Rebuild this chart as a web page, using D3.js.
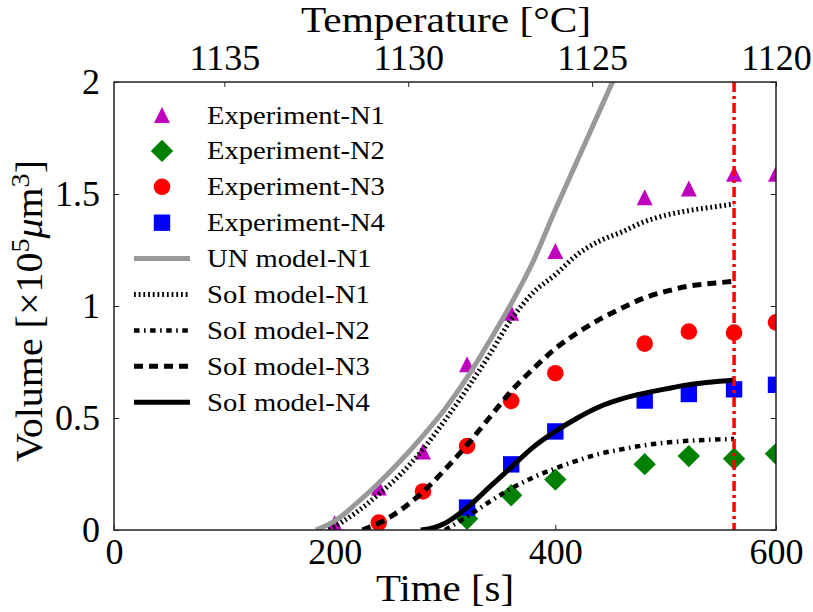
<!DOCTYPE html>
<html><head><meta charset="utf-8">
<script src="https://cdn.jsdelivr.net/npm/d3@7"></script>
<style>
body{margin:0;background:#fff}
text{font-family:"Liberation Serif","Times New Roman",serif;fill:#000}
</style>
</head><body><svg id="c" width="813" height="612"></svg>
<script>
// ---------- data ----------
const expTimeN1 = [200,240,280,320,360,400,481,521,562,600];
const expN1     = [0.03,0.19,0.35,0.74,0.97,1.245,1.485,1.525,1.59,1.59];
const expTimeN2 = [320,360,400,481,521,562,600];
const expN2     = [0.05,0.155,0.225,0.294,0.33,0.318,0.34];
const expTimeN3 = [240,280,320,360,400,481,521,562,600];
const expN3     = [0.033,0.172,0.375,0.576,0.70,0.832,0.886,0.881,0.927];
const expTimeN4 = [320,360,400,481,521,562,600];
const expN4     = [0.10,0.293,0.44,0.578,0.607,0.628,0.648];

const unTimeN1 = [183,200,220,240,260,280,300,320,340,360,380,400,420,440,460];
const unN1     = [0,0.04,0.12,0.21,0.31,0.42,0.54,0.68,0.84,1.01,1.2,1.43,1.65,1.87,2.09];
const soiTimeN1 = [195,220,240,260,280,300,320,340,360,380,400,420,440,460,480,500,520,540,562];
const soiN1     = [0,0.08,0.16,0.25,0.36,0.49,0.63,0.78,0.94,1.06,1.14,1.23,1.29,1.33,1.375,1.405,1.425,1.44,1.455];
const soiTimeN2 = [300,320,340,360,380,400,420,440,460,480,500,520,540,562];
const soiN2     = [0,0.06,0.125,0.185,0.235,0.275,0.31,0.34,0.36,0.378,0.39,0.398,0.403,0.406];
const soiTimeN3 = [225,240,260,280,300,320,340,360,380,400,420,440,460,480,500,520,540,562];
const soiN3     = [0,0.03,0.09,0.17,0.27,0.38,0.5,0.62,0.72,0.81,0.88,0.94,0.99,1.035,1.065,1.088,1.10,1.11];
const soiTimeN4 = [278,290,300,320,340,360,380,400,420,440,460,480,500,520,540,562];
const soiN4     = [0,0.01,0.03,0.1,0.19,0.28,0.37,0.44,0.5,0.55,0.585,0.61,0.63,0.648,0.66,0.67];

const markTime = 562;
const xTicks = [0,200,400,600];
const yTicks = [0,0.5,1,1.5,2];
const tempTicks = [1135,1130,1125,1120];
const tempDomain = [1138,1120];

const legendLabels = ["Experiment-N1","Experiment-N2","Experiment-N3","Experiment-N4",
  "UN model-N1","SoI model-N1","SoI model-N2","SoI model-N3","SoI model-N4"];

// ---------- layout ----------
const L=114, R=776, T=82, B=530;
const svg = d3.select("#c");
const x = d3.scaleLinear().domain([0,600]).range([L,R]);
const y = d3.scaleLinear().domain([0,2]).range([B,T]);
const xt = d3.scaleLinear().domain(tempDomain).range([L,R]);

svg.append("defs").append("clipPath").attr("id","clip")
  .append("rect").attr("x",L).attr("y",T).attr("width",R-L).attr("height",B-T);
const plot = svg.append("g").attr("clip-path","url(#clip)");

const zip = (a,b)=>a.map((v,i)=>[v,b[i]]);

// markers
const triPath = s => `M0,${-s}L${s},${s}L${-s},${s}Z`;
const diaPath = s => `M0,${-s}L${s},0L0,${s}L${-s},0Z`;
const markers = [
  {t:expTimeN1, v:expN1, color:"#bf00bf", type:"tri"},
  {t:expTimeN2, v:expN2, color:"#008000", type:"dia"},
  {t:expTimeN3, v:expN3, color:"#ff0000", type:"circ"},
  {t:expTimeN4, v:expN4, color:"#0000ff", type:"sq"}
];
function drawMarker(g, type, color, cx, cy){
  if(type==="tri") g.append("path").attr("d",triPath(8)).attr("transform",`translate(${cx},${cy})`).attr("fill",color);
  else if(type==="dia") g.append("path").attr("d",diaPath(11.2)).attr("transform",`translate(${cx},${cy})`).attr("fill",color);
  else if(type==="circ") g.append("circle").attr("cx",cx).attr("cy",cy).attr("r",8.3).attr("fill",color);
  else g.append("rect").attr("x",cx-8.2).attr("y",cy-8.2).attr("width",16.4).attr("height",16.4).attr("fill",color);
}
markers.forEach(m=>{
  zip(m.t,m.v).forEach(([t,v])=>drawMarker(plot,m.type,m.color,x(t),y(v)));
});

// lines
const line = d3.line().x(d=>x(d[0])).y(d=>y(d[1])).curve(d3.curveMonotoneX);
const lines = [
  {d:zip(unTimeN1,unN1), color:"#999999", w:5, dash:null},
  {d:zip(soiTimeN1,soiN1), color:"#000", w:5, dash:"1.8,2.9"},
  {d:zip(soiTimeN2,soiN2), color:"#000", w:4.5, dash:"5.5,4.5,1.6,4.5"},
  {d:zip(soiTimeN3,soiN3), color:"#000", w:5, dash:"9,6"},
  {d:zip(soiTimeN4,soiN4), color:"#000", w:5, dash:null}
];
lines.forEach(l=>{
  plot.append("path").attr("d",line(l.d)).attr("fill","none")
    .attr("stroke",l.color).attr("stroke-width",l.w)
    .attr("stroke-dasharray",l.dash);
});

// red vertical line
plot.append("line").attr("x1",x(markTime)).attr("x2",x(markTime))
  .attr("y1",y(2)).attr("y2",y(0)).attr("stroke","#ff0000").attr("stroke-width",3.5)
  .attr("stroke-dasharray","10,4,3,4");

// axes
const fs = 36;
function styleAxis(g){
  g.select(".domain").remove();
  g.selectAll(".tick line").attr("stroke","#222").attr("stroke-width",1);
  g.selectAll(".tick text").style("font-size",fs+"px").attr("font-family",null);
}
svg.append("g").attr("transform",`translate(0,${B})`)
  .call(d3.axisBottom(x).tickValues(xTicks).tickSizeInner(-5).tickSizeOuter(0).tickPadding(8).tickFormat(d=>String(d)))
  .call(styleAxis);
svg.append("g").attr("transform",`translate(${L},0)`)
  .call(d3.axisLeft(y).tickValues(yTicks).tickSizeInner(-5).tickSizeOuter(0).tickPadding(14).tickFormat(d=>String(d)))
  .call(styleAxis);
svg.append("g").attr("transform",`translate(${R},0)`)
  .call(d3.axisRight(y).tickValues(yTicks).tickSizeInner(-5).tickSizeOuter(0).tickFormat(""))
  .call(styleAxis);
svg.append("g").attr("transform",`translate(0,${T})`)
  .call(d3.axisTop(xt).tickValues(tempTicks).tickSizeInner(-5).tickSizeOuter(0).tickPadding(12).tickFormat(d=>String(d)))
  .call(styleAxis);

// frame
svg.append("rect").attr("x",L).attr("y",T).attr("width",R-L).attr("height",B-T)
  .attr("fill","none").attr("stroke","#222").attr("stroke-width",1.5);

// axis titles
svg.append("text").attr("x",(L+R)/2).attr("y",601).attr("text-anchor","middle")
  .style("font-size","37px").attr("textLength",138).attr("lengthAdjust","spacingAndGlyphs").text("Time [s]");
svg.append("text").attr("x",446).attr("y",32).attr("text-anchor","middle")
  .style("font-size","36px").attr("textLength",290).attr("lengthAdjust","spacingAndGlyphs").text("Temperature [°C]");
const yl = svg.append("text").attr("transform","translate(42,311) rotate(-90)")
  .attr("text-anchor","middle").style("font-size","37px")
  .attr("textLength",302).attr("lengthAdjust","spacingAndGlyphs");
yl.append("tspan").text("Volume [×10");
yl.append("tspan").attr("dy",-13).style("font-size","26px").text("5");
yl.append("tspan").attr("dy",13).style("font-style","italic").text("μ");
yl.append("tspan").text("m");
yl.append("tspan").attr("dy",-13).style("font-size","26px").text("3");
yl.append("tspan").attr("dy",13).text("]");

// legend
const lg = svg.append("g");
const ly0 = 115, lstep = 35.9, lmx = 162, ltx = 207;
legendLabels.forEach((lab,i)=>{
  const yy = ly0 + i*lstep;
  if(i<4){ drawMarker(lg, markers[i].type, markers[i].color, lmx, yy); }
  else {
    const l = lines[i-4];
    lg.append("line").attr("x1",134).attr("x2",190).attr("y1",yy).attr("y2",yy)
      .attr("stroke",l.color).attr("stroke-width",l.w).attr("stroke-dasharray",l.dash);
  }
  const tx = lg.append("text").attr("x",ltx).attr("y",yy+8.5).style("font-size","26px").text(lab);
  const w = tx.node().getComputedTextLength();
  tx.attr("textLength",w*1.1).attr("lengthAdjust","spacingAndGlyphs");
});
</script>
</body></html>
